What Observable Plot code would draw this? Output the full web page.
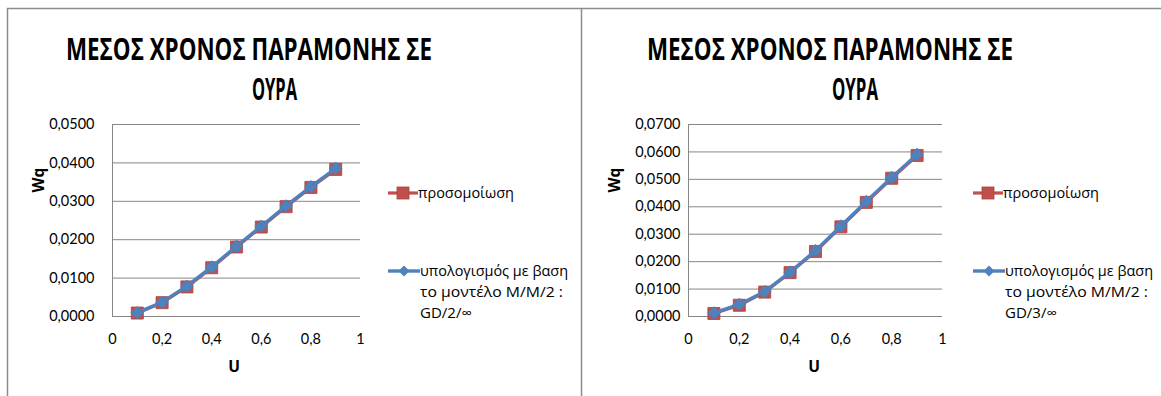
<!DOCTYPE html>
<html><head><meta charset="utf-8">
<script src="https://cdn.jsdelivr.net/npm/d3@7"></script>
<script src="https://cdn.jsdelivr.net/npm/@observablehq/plot@0.6"></script>
<style>
html,body{margin:0;padding:0;background:#fff;}
#wrap{position:relative;width:1161px;height:396px;overflow:hidden;background:#fff;}
#wrap svg{position:absolute;top:0;}
</style></head><body><div id="wrap"></div>
<script>
// ---- data ----
const U = [0.1, 0.2, 0.3, 0.4, 0.5, 0.6, 0.7, 0.8, 0.9];
const simLeft   = [0.0009, 0.0036, 0.0077, 0.0127, 0.0181, 0.0233, 0.0286, 0.0336, 0.0383];
const modelLeft = [0.0010, 0.0037, 0.0079, 0.0129, 0.0183, 0.0235, 0.0288, 0.0338, 0.0386];
const simRight   = [0.0011, 0.0041, 0.0089, 0.0160, 0.0237, 0.0327, 0.0416, 0.0504, 0.0587];
const modelRight = [0.0013, 0.0044, 0.0091, 0.0162, 0.0240, 0.0330, 0.0419, 0.0507, 0.0591];
const xTicks = [0, 0.2, 0.4, 0.6, 0.8, 1];
const yTicksLeft = [0, 0.01, 0.02, 0.03, 0.04, 0.05];
const yTicksRight = [0, 0.01, 0.02, 0.03, 0.04, 0.05, 0.06, 0.07];
const titleLine1 = "ΜΕΣΟΣ ΧΡΟΝΟΣ ΠΑΡΑΜΟΝΗΣ ΣΕ";
const titleLine2 = "ΟΥΡΑ";
const xLabel = "U";
const yLabel = "Wq";
const seriesSim = "προσομοίωση";
const seriesModelLeft = ["υπολογισμός με βαση", "το μοντέλο M/M/2 :", "GD/2/∞"];
const seriesModelRight = ["υπολογισμός με βαση", "το μοντέλο M/M/2 :", "GD/3/∞"];

const RED = "#C0504D", BLUE = "#4F81BD", GRID = "#868686";
const fmtY = d => d.toFixed(4).replace(".", ",");
const fmtX = d => (d === 0 ? "0" : d === 1 ? "1" : String(d).replace(".", ","));
const diamond = {draw(ctx, size) { const h = Math.sqrt(size / 2); ctx.moveTo(0, -h); ctx.lineTo(h, 0); ctx.lineTo(0, h); ctx.lineTo(-h, 0); ctx.closePath(); }};

function panel({width, left, mL, mR, ymax, yTicks, yPad, sim, model}) {
  const data = U.map((u, i) => ({u, sim: sim[i], model: model[i]}));
  const svg = Plot.plot({
    width, height: 396,
    marginLeft: mL, marginRight: mR, marginTop: 124, marginBottom: 80,
    x: {domain: [0, 1]},
    y: {domain: [0, ymax]},
    style: {fontFamily: "Lato, 'Open Sans', sans-serif", fontSize: "14.5px", color: "#000", background: "transparent", overflow: "visible"},
    marks: [
      Plot.gridY({ticks: yTicks, stroke: GRID, strokeOpacity: 1, strokeWidth: 1}),
      Plot.ruleX([0], {stroke: GRID, strokeWidth: 1}),
      Plot.axisY({ticks: yTicks, tickSize: 0, tickPadding: yPad, tickFormat: fmtY, label: null, fontSize: 14.5}),
      Plot.axisX({ticks: xTicks, tickSize: 0, tickPadding: 17, tickFormat: fmtX, label: null, fontSize: 14.5}),
      Plot.line(data, {x: "u", y: "sim", stroke: RED, strokeWidth: 3.2}),
      Plot.dot(data, {x: "u", y: "sim", symbol: "square", r: 6.8, fill: RED, stroke: "#A8423F", strokeWidth: 0.8}),
      Plot.line(data, {x: "u", y: "model", stroke: BLUE, strokeWidth: 3.4, strokeLinejoin: "round"}),
      Plot.dot(data, {x: "u", y: "model", symbol: diamond, r: 5, fill: BLUE, stroke: "#4A7EBB", strokeWidth: 0.8})
    ]
  });
  svg.style.left = left + "px";
  return svg;
}

const wrap = document.getElementById("wrap");
wrap.appendChild(panel({width: 580, left: 0, mL: 112, mR: 220, ymax: 0.05, yTicks: yTicksLeft, yPad: 18, sim: simLeft, model: modelLeft}));
wrap.appendChild(panel({width: 581, left: 580, mL: 108, mR: 219, ymax: 0.07, yTicks: yTicksRight, yPad: 8, sim: simRight, model: modelRight}));

// ---- overlay: frame, titles, axis titles, legends ----
const ov = d3.create("svg").attr("width", 1161).attr("height", 396).style("left", "0px").style("pointer-events", "none");
const fr = ov.append("g").attr("stroke", "#8c8c8c").attr("stroke-width", 1.5);
fr.append("line").attr("x1", 7).attr("x2", 1161).attr("y1", 8.5).attr("y2", 8.5);
fr.append("line").attr("x1", 7.5).attr("x2", 7.5).attr("y1", 8).attr("y2", 396);
fr.append("line").attr("x1", 581.5).attr("x2", 581.5).attr("y1", 8).attr("y2", 396);

function decorate(dx, t1x, t1w, t2x, t2w, modelLines, wqX, uX) {
  const g = ov.append("g").attr("font-family", "'Open Sans', sans-serif").attr("fill", "#000");
  g.append("text").attr("x", t1x).attr("y", 60).attr("font-size", 29.5).attr("font-weight", "bold")
    .attr("textLength", t1w).attr("lengthAdjust", "spacingAndGlyphs").text(titleLine1);
  g.append("text").attr("x", t2x).attr("y", 100).attr("font-size", 29.5).attr("font-weight", "bold")
    .attr("textLength", t2w).attr("lengthAdjust", "spacingAndGlyphs").text(titleLine2);
  g.append("text").attr("transform", `translate(${wqX},180) rotate(-90)`).attr("text-anchor", "middle")
    .attr("font-size", 15.5).attr("font-weight", "bold").text(yLabel);
  g.append("text").attr("x", uX).attr("y", 372).attr("text-anchor", "middle")
    .attr("font-size", 15.5).attr("font-weight", "bold").text(xLabel);
  // legend 1
  g.append("line").attr("x1", 388 + dx).attr("x2", 418 + dx).attr("y1", 193).attr("y2", 193).attr("stroke", RED).attr("stroke-width", 3.2);
  g.append("rect").attr("x", 403 + dx - 6).attr("y", 193 - 6).attr("width", 12).attr("height", 12).attr("fill", RED).attr("stroke", "#A8423F").attr("stroke-width", 0.8);
  g.append("text").attr("x", 418 + dx).attr("y", 197.5).attr("font-size", 14.5).attr("textLength", 96).attr("lengthAdjust", "spacingAndGlyphs").text(seriesSim);
  // legend 2
  g.append("line").attr("x1", 388 + dx).attr("x2", 420 + dx).attr("y1", 271).attr("y2", 271).attr("stroke", BLUE).attr("stroke-width", 3.4);
  g.append("path").attr("transform", `translate(${404 + dx},271)`).attr("d", "M0,-5.5L5.5,0L0,5.5L-5.5,0Z").attr("fill", BLUE);
  const widths = [148, 143, 52];
  modelLines.forEach((s, i) => {
    g.append("text").attr("x", 420 + dx).attr("y", 275.5 + 21 * i).attr("font-size", 14.5)
      .attr("textLength", widths[i]).attr("lengthAdjust", "spacingAndGlyphs").text(s);
  });
}
decorate(0, 66, 366, 252, 45, seriesModelLeft, 43.5, 234);
decorate(585, 647, 366, 832, 46, seriesModelRight, 619.5, 814);
wrap.appendChild(ov.node());
</script>
</body></html>
